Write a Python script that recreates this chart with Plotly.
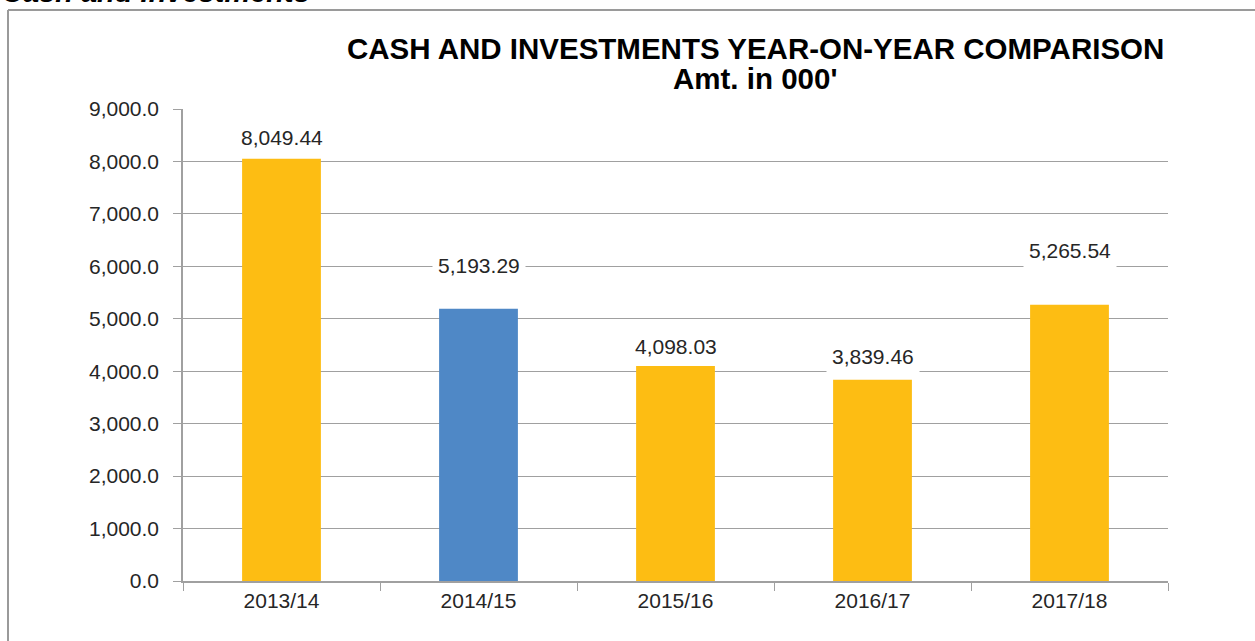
import plotly.graph_objects as go

categories = ["2013/14", "2014/15", "2015/16", "2016/17", "2017/18"]
values = [8049.44, 5193.29, 4098.03, 3839.46, 5265.54]
bar_colors = ["#FDBD13", "#4F88C6", "#FDBD13", "#FDBD13", "#FDBD13"]
label_offsets = [21, 43, 20, 23, 54]  # px above bar top
y_ticks = [0, 1000, 2000, 3000, 4000, 5000, 6000, 7000, 8000, 9000]

W, H = 1255, 641
L, R, T, B = 183, 87, 109, 60
pw, ph = W - L - R, H - T - B
FONT = "Liberation Sans, Arial"

fig = go.Figure()
fig.add_trace(go.Bar(
    x=categories, y=values, marker=dict(color=bar_colors, line=dict(width=0)),
    hoverinfo="x+y", showlegend=False,
))

for c, v, off in zip(categories, values, label_offsets):
    fig.add_annotation(
        x=c, y=v, xref="x", yref="y", text=f"{v:,.2f}", showarrow=False,
        yshift=off, bgcolor="white", borderpad=5,
        font=dict(family=FONT, size=21, color="#262626"),
    )

fig.add_annotation(
    xref="paper", yref="paper", x=(755 - L) / pw, y=(H - B - 48) / ph,
    text="<b>CASH AND INVESTMENTS YEAR-ON-YEAR COMPARISON</b>", showarrow=False,
    xanchor="center", yanchor="middle",
    font=dict(family=FONT, size=29.5, color="black"),
)
fig.add_annotation(
    xref="paper", yref="paper", x=(755 - L) / pw, y=(H - B - 78) / ph,
    text="<b>Amt. in 000'</b>", showarrow=False,
    xanchor="center", yanchor="middle",
    font=dict(family=FONT, size=29.5, color="black"),
)
fig.add_annotation(
    xref="paper", yref="paper", x=(0 - L) / pw, y=(H - B - 10) / ph,
    text="<b><i>Cash and Investments</i></b>", showarrow=False,
    xanchor="left", yanchor="bottom",
    font=dict(family=FONT, size=29, color="black"),
)

fx0 = (8 - L) / pw
fy1 = (H - B - 10) / ph
fig.add_shape(type="line", xref="paper", yref="paper", x0=fx0, x1=fx0, y0=-0.2, y1=fy1,
              line=dict(color="#9A9A9A", width=2))
fig.add_shape(type="line", xref="paper", yref="paper", x0=fx0, x1=1.2, y0=fy1, y1=fy1,
              line=dict(color="#9A9A9A", width=2))

fig.update_layout(
    width=W, height=H,
    margin=dict(l=L, r=R, t=T, b=B, pad=0),
    plot_bgcolor="white", paper_bgcolor="white",
    bargap=0.6,
    font=dict(family=FONT, size=21, color="#262626"),
    xaxis=dict(
        showgrid=False, showline=True, linecolor="#A0A0A0", linewidth=1.5,
        ticks="outside", ticklen=8, tickcolor="#A0A0A0", tickson="boundaries",
        tickfont=dict(size=21, color="#262626"),
    ),
    yaxis=dict(
        range=[0, 9000], tickvals=y_ticks,
        ticktext=[f"{t:,.1f}" for t in y_ticks],
        showgrid=True, gridcolor="#A0A0A0", gridwidth=1.2,
        showline=True, linecolor="#A0A0A0", linewidth=1.5,
        ticks="outside", ticklen=8, tickcolor="#A0A0A0",
        tickfont=dict(size=21, color="#262626"), zeroline=False,
        ticklabelstandoff=10,
    ),
)

fig.write_html(
    "out.html",
    config={"displayModeBar": False},
    post_script="document.body.style.margin='0';document.body.style.overflow='hidden';",
)
